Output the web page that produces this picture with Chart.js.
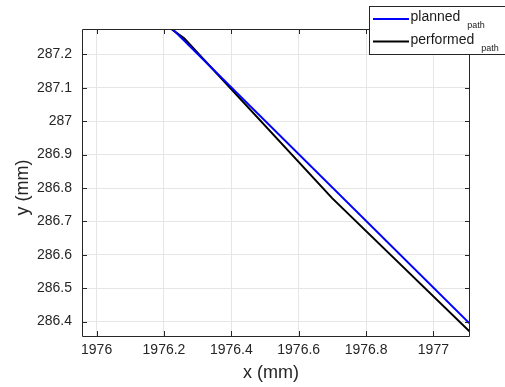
<!DOCTYPE html>
<html>
<head>
<meta charset="utf-8">
<script src="https://cdn.jsdelivr.net/npm/chart.js@4/dist/chart.umd.min.js"></script>
<style>
  html, body { margin: 0; padding: 0; background: #ffffff; }
  #wrap { position: relative; width: 505px; height: 387px; }
</style>
</head>
<body>
<div id="wrap"><canvas id="c" width="505" height="387"></canvas></div>
<script>
// Path coordinates (mm)
const plannedX = [1976.15, 1977.20];
const plannedY = [287.351, 286.302];
const performedX = [1976.20, 1976.26, 1976.70, 1977.20];
const performedY = [287.292, 287.248, 286.769, 286.280];

// Axis ticks and limits
const xTicks = [1976, 1976.2, 1976.4, 1976.6, 1976.8, 1977];
const yTicks = [286.4, 286.5, 286.6, 286.7, 286.8, 286.9, 287, 287.1, 287.2];
const xLimits = [1975.9566, 1977.1087];
const yLimits = [286.357, 287.276];

const seriesNames = ['planned', 'performed'];
const seriesSub = ['path', 'path'];
const seriesColors = ['#0000ff', '#000000'];

const FONT = '"Liberation Sans", Arial, Helvetica, sans-serif';
const AXIS_COLOR = '#262626';

function toPoints(xs, ys) {
  return xs.map((x, i) => ({ x: x, y: ys[i] }));
}

function fmt(v) {
  return String(Number(v.toFixed(1)));
}

// Box around the axes with inward tick marks on all four sides
const boxPlugin = {
  id: 'axesBox',
  afterDatasetsDraw(chart) {
    const { ctx, chartArea: a, scales } = chart;
    const tl = 5;
    ctx.save();
    ctx.strokeStyle = AXIS_COLOR;
    ctx.lineWidth = 1;
    ctx.beginPath();
    ctx.rect(Math.round(a.left) + 0.5, Math.round(a.top) + 0.5,
             Math.round(a.right - a.left) - 1, Math.round(a.bottom - a.top));
    xTicks.forEach(v => {
      const px = Math.round(scales.x.getPixelForValue(v)) + 0.5;
      ctx.moveTo(px, a.bottom); ctx.lineTo(px, a.bottom - tl);
      ctx.moveTo(px, a.top); ctx.lineTo(px, a.top + tl);
    });
    yTicks.forEach(v => {
      const py = Math.round(scales.y.getPixelForValue(v)) + 0.5;
      ctx.moveTo(a.left, py); ctx.lineTo(a.left + tl, py);
      ctx.moveTo(a.right, py); ctx.lineTo(a.right - tl, py);
    });
    ctx.stroke();
    ctx.restore();
  }
};

// Legend with subscripted labels
const legendPlugin = {
  id: 'subLegend',
  afterDraw(chart) {
    const { ctx } = chart;
    const ds = chart.data.datasets;
    ctx.save();
    ctx.fillStyle = '#ffffff';
    ctx.strokeStyle = AXIS_COLOR;
    ctx.lineWidth = 1;
    ctx.fillRect(369.5, 6.5, 140, 48);
    ctx.strokeRect(369.5, 6.5, 140, 48);
    const rows = [{ lineY: 19, base: 20.5 }, { lineY: 41.5, base: 43.5 }];
    ds.forEach((d, i) => {
      const r = rows[i];
      ctx.strokeStyle = d.borderColor;
      ctx.lineWidth = 2;
      ctx.beginPath();
      ctx.moveTo(373, r.lineY);
      ctx.lineTo(409, r.lineY);
      ctx.stroke();
      ctx.fillStyle = '#1a1a1a';
      ctx.textBaseline = 'alphabetic';
      ctx.textAlign = 'left';
      ctx.font = '14px ' + FONT;
      ctx.fillText(d.label, 410.5, r.base);
      const w = ctx.measureText(d.label).width;
      ctx.font = '9px ' + FONT;
      ctx.fillText(seriesSub[i], 410.5 + w + 7, r.base + 7);
    });
    ctx.restore();
  }
};

new Chart(document.getElementById('c'), {
  type: 'line',
  data: {
    datasets: [
      {
        label: seriesNames[0],
        data: toPoints(plannedX, plannedY),
        borderColor: seriesColors[0],
        borderWidth: 2,
        pointRadius: 0,
        tension: 0,
        fill: false,
        clip: 0
      },
      {
        label: seriesNames[1],
        data: toPoints(performedX, performedY),
        borderColor: seriesColors[1],
        borderWidth: 2,
        pointRadius: 0,
        tension: 0,
        fill: false,
        clip: 0
      }
    ]
  },
  options: {
    responsive: false,
    animation: false,
    events: [],
    layout: { padding: { left: 0, top: 29, right: 35, bottom: 0 } },
    plugins: { legend: { display: false }, tooltip: { enabled: false } },
    scales: {
      x: {
        type: 'linear',
        min: xLimits[0],
        max: xLimits[1],
        afterBuildTicks: s => { s.ticks = xTicks.map(v => ({ value: v })); },
        afterFit: s => { s.height = 51; },
        grid: { color: '#e6e6e6', drawTicks: false },
        border: { display: false },
        ticks: {
          color: AXIS_COLOR,
          font: { family: FONT, size: 14 },
          padding: 6,
          maxRotation: 0,
          callback: v => fmt(v)
        },
        title: {
          display: true,
          text: 'x (mm)\u00a0\u00a0',
          color: AXIS_COLOR,
          font: { family: FONT, size: 18 },
          padding: { top: 0, bottom: 3 }
        }
      },
      y: {
        type: 'linear',
        min: yLimits[0],
        max: yLimits[1],
        afterBuildTicks: s => { s.ticks = yTicks.map(v => ({ value: v })); },
        afterFit: s => { s.width = 82; },
        grid: { color: '#e6e6e6', drawTicks: false },
        border: { display: false },
        ticks: {
          color: AXIS_COLOR,
          font: { family: FONT, size: 14 },
          padding: 10,
          callback: v => fmt(v)
        },
        title: {
          display: true,
          text: 'y (mm)\u00a0\u00a0',
          color: AXIS_COLOR,
          font: { family: FONT, size: 18 },
          padding: { top: 12, bottom: 0 }
        }
      }
    }
  },
  plugins: [boxPlugin, legendPlugin]
});
</script>
</body>
</html>
